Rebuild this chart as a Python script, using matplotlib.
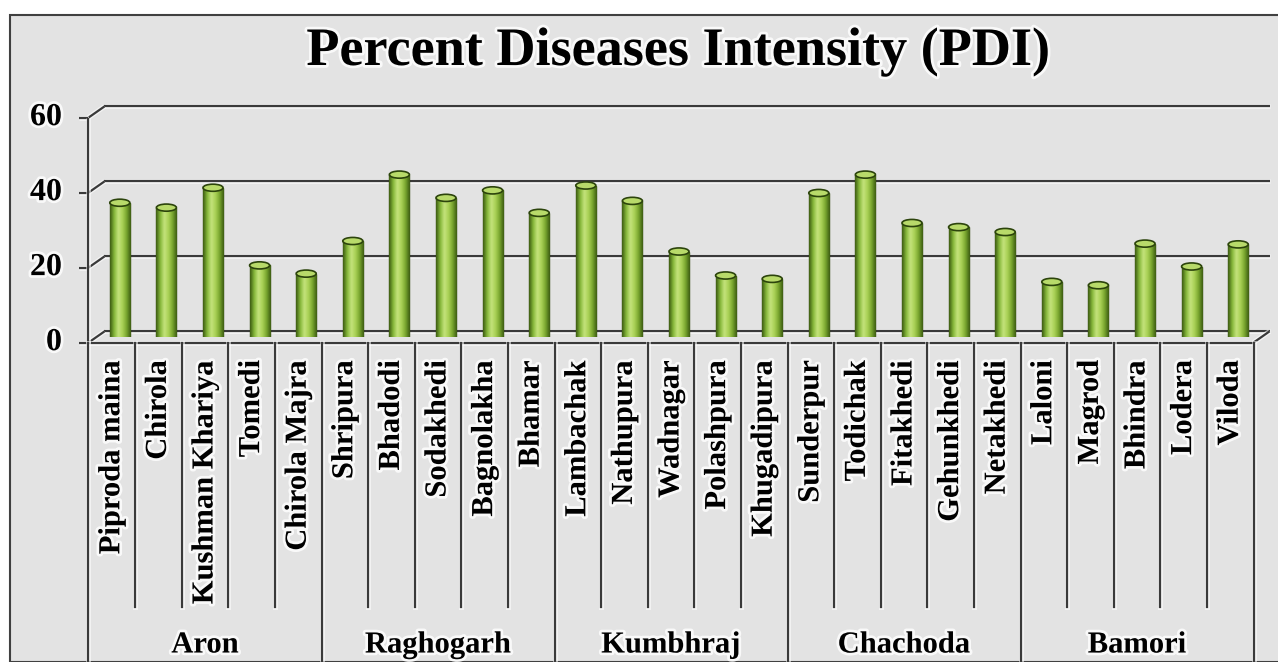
import matplotlib
matplotlib.use("Agg")
import matplotlib.pyplot as plt
import matplotlib.patheffects as pe
import matplotlib.transforms as mtransforms
from matplotlib.patches import Ellipse, Rectangle
from matplotlib.colors import LinearSegmentedColormap
import numpy as np

# data
villages = ["Piproda maina", "Chirola", "Kushman Khariya", "Tomedi", "Chirola Majra",
            "Shripura", "Bhadodi", "Sodakhedi", "Bagnolakha", "Bhamar",
            "Lambachak", "Nathupura", "Wadnagar", "Polashpura", "Khugadipura",
            "Sunderpur", "Todichak", "Fitakhedi", "Gehunkhedi", "Netakhedi",
            "Laloni", "Magrod", "Bhindra", "Lodera", "Viloda"]
blocks = ["Aron", "Raghogarh", "Kumbhraj", "Chachoda", "Bamori"]
per_block = 5
pdi = [35.8, 34.5, 39.8, 19.1, 16.9,
       25.6, 43.3, 37.1, 39.1, 33.1,
       40.4, 36.3, 22.8, 16.4, 15.5,
       38.4, 43.3, 30.4, 29.3, 28.0,
       14.7, 13.8, 24.9, 18.8, 24.7]
yticks = [0, 20, 40, 60]
title = "Percent Diseases Intensity (PDI)"

W, H = 1278, 662
bg = "#e3e3e3"
line_col = "#3a3a3a"
font = "Liberation Serif"
glow = [pe.Stroke(linewidth=4, foreground="white", alpha=0.8), pe.Normal()]
line_glow = [pe.Stroke(linewidth=3.5, foreground="white", alpha=0.6), pe.Normal()]

fig = plt.figure(figsize=(W / 100, H / 100), dpi=100)
fig.patch.set_facecolor("white")
# grey chart area with border
fig.patches.append(Rectangle((10 / W, 0), 1, 1 - 15 / H, transform=fig.transFigure,
                             facecolor=bg, edgecolor="#404040", lw=1.5, zorder=-5))

ax = fig.add_axes([96.5 / W, (H - 337) / H, 1165 / W, 225 / H])
ax.set_xlim(-0.5, len(villages) - 0.5)
ax.set_ylim(0, 60)
ax.axis("off")

# depth offsets (mid depth = data coords)
back = mtransforms.offset_copy(ax.transData, fig=fig, x=8, y=5.6, units="dots")
front = mtransforms.offset_copy(ax.transData, fig=fig, x=-8, y=-5.6, units="dots")

n = len(villages)
x0, x1 = -0.5, n - 0.5
kw = dict(color=line_col, lw=1.6, clip_on=False, solid_capstyle="butt", path_effects=line_glow)

# back wall gridlines + left side diagonals
for v in yticks:
    ax.plot([x0, x1], [v, v], transform=back, zorder=1, **kw)
    p1 = front.transform((x0, v))
    p2 = back.transform((x0, v))
    ax.plot([p1[0], p2[0]], [p1[1], p2[1]], transform=None, zorder=1, **kw)
    # tick
    ax.plot([p1[0] - 9, p1[0]], [p1[1], p1[1]], transform=None, zorder=1, **kw)
    fig.text(62 / W, fig.transFigure.inverted().transform(p1)[1], str(v), ha="right",
             va="center", fontsize=23, fontweight="bold", family=font, path_effects=glow)

# floor
ax.plot([x0, x1], [0, 0], transform=front, zorder=5, **kw)
p1 = front.transform((x1, 0))
p2 = back.transform((x1, 0))
ax.plot([p1[0], p2[0]], [p1[1], p2[1]], transform=None, zorder=5, **kw)
# front value axis
ax.plot([x0, x0], [0, 60], transform=front, zorder=5, **kw)

# bars
cmap = LinearSegmentedColormap.from_list(
    "cyl", ["#3d5c12", "#86b83a", "#c4e37c", "#a9d155", "#78a52e", "#3d5c12"])
grad = np.linspace(0, 1, 64).reshape(1, -1)
bw = 0.43
bars = ax.bar(np.arange(n), pdi, width=bw, color="#9cc94a", edgecolor="#2c440c",
              lw=1.0, zorder=3)
for b, v in zip(bars, pdi):
    bx = b.get_x()
    im = ax.imshow(grad, cmap=cmap, extent=(bx, bx + bw, 0, v), aspect="auto",
                   zorder=3.5, interpolation="bicubic")
    im.set_clip_path(b)
    ax.add_patch(Ellipse((bx + bw / 2, v), bw, 1.9, facecolor="#b8da6a",
                         edgecolor="#2c440c", lw=1.2, zorder=4))
ax.set_xlim(-0.5, n - 0.5)
ax.set_ylim(0, 60)

# category separators and labels
tf = fig.transFigure
inv = tf.inverted()
y_top = inv.transform(front.transform((0, 0)))[1]
for k in range(n + 1):
    xp = inv.transform(front.transform((x0 + k, 0)))[0]
    y_bot = 0 if k % per_block == 0 else (H - 607) / H
    fig.add_artist(plt.Line2D([xp, xp], [y_top, y_bot], transform=tf, color=line_col,
                              lw=1.6, path_effects=line_glow))
for i, name in enumerate(villages):
    xp = inv.transform(front.transform((i, 0)))[0]
    fig.text(xp, (H - 360) / H, name, rotation=90, ha="center", va="top", fontsize=22,
             fontweight="bold", family=font, path_effects=glow)
for g, name in enumerate(blocks):
    xc = g * per_block + (per_block - 1) / 2
    xp = inv.transform(front.transform((xc, 0)))[0]
    fig.text(xp, (H - 645) / H, name, ha="center", va="center", fontsize=22,
             fontweight="bold", family=font, path_effects=glow)

fig.text(678 / W, (H - 65) / H, title, ha="center", va="baseline", fontsize=39,
         fontweight="bold", family=font, path_effects=glow)

fig.savefig("out.png", dpi=100, facecolor=fig.get_facecolor())
